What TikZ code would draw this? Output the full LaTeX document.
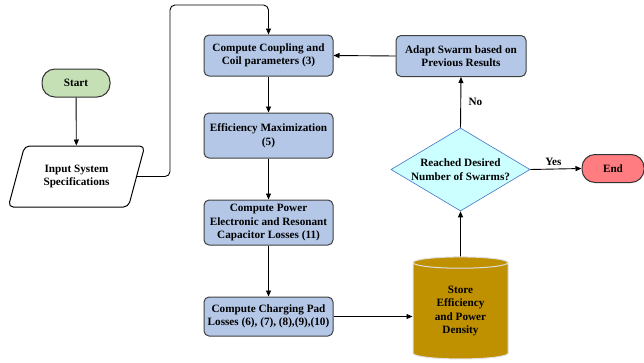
\documentclass[tikz,border=0pt]{standalone}
\usepackage{fontspec}
\setmainfont{Liberation Serif}
\newfontfamily\flowfont{Liberation Serif}
\usetikzlibrary{shapes.geometric,arrows.meta}

\definecolor{procblue}{HTML}{B4C7E7}
\definecolor{startgreen}{HTML}{C5E0B4}
\definecolor{endred}{HTML}{FF7C80}
\definecolor{storegold}{HTML}{BF9000}
\definecolor{decidecyan}{HTML}{CCFFFF}
\definecolor{decideblue}{HTML}{4472C4}

\tikzset{
  txt/.style={font=\flowfont\fontsize{11.2}{13.5}\selectfont\bfseries,align=center},
  proc/.style={txt,draw=black!75,fill=procblue,rounded corners=5pt,line width=1pt,
    minimum width=129pt,minimum height=41pt,inner sep=2pt},
  term/.style={txt,draw=black!80,rounded corners=13pt,line width=1pt,minimum height=28pt},
  flow/.style={line width=0.9pt,-{Triangle[length=6pt,width=5pt]}}
}

\begin{document}
\begin{tikzpicture}[x=1pt,y=-1pt]
\useasboundingbox (0,0) rectangle (644,362);
% left column
\node [term,fill=startgreen,minimum width=68pt] (start) at (76,83) {Start};
\node [txt,draw=black,line width=1pt,rounded corners=5pt,trapezium,trapezium stretches=true,
  trapezium left angle=66,trapezium right angle=114,minimum height=61pt,minimum width=137pt,
  inner sep=0pt] (input) at (76.5,176.5) {Input System\\Specifications};
% process column
\node [proc] (coupling) at (268.5,55.5) {Compute Coupling and\\Coil parameters (3)};
\node [proc,minimum height=45pt] (effmax) at (268.5,135.5) {Efficiency Maximization\\(5)};
\node [proc,minimum height=45pt] (losses) at (268.5,222.5) {Compute Power\\Electronic and Resonant\\Capacitor Losses (11)};
\node [proc,minimum height=39pt] (padloss) at (268.5,316.5) {Compute Charging Pad\\Losses (6), (7), (8),(9),(10)};
% right column
\node [txt,cylinder,shape border rotate=90,aspect=0.22,draw=white!75!gray,line width=1pt,
  fill=storegold,minimum width=95pt,minimum height=102pt,inner sep=0pt] (store) at (460.5,311)
  {Store\\Efficiency\\and Power\\Density};
\node [diamond,draw=decideblue,fill=decidecyan,line width=0.6pt,minimum width=139pt,
  minimum height=83pt,inner sep=0pt] (reached) at (460.5,169.5) {};
\node [txt] (reachedtxt) at (reached.center) {Reached Desired\\Number of Swarms?};
\node [proc,minimum width=130pt] (adapt) at (461,56) {Adapt Swarm based on\\Previous Results};
\node [term,fill=endred,minimum width=62pt] (finish) at (613,168.5) {End};

\draw [flow] (start) -- (input);
\draw [flow,rounded corners=5pt] (input.east) -- (170,176.5) -- (170,5) -- (coupling.north |- 0,5) -- (coupling.north);
\draw [flow] (coupling) -- (effmax);
\draw [flow] (effmax) -- (losses);
\draw [flow] (losses) -- (padloss);
\draw [flow] (padloss.east) -- (padloss.east -| store.west);
\draw [flow] (store.north) -- (reached.south);
\draw [flow] (reached.north) -- node [txt,right,xshift=4pt] {No} (adapt.south);
\draw [flow] (adapt.west) -- (coupling.east);
\draw [flow] (reached.east) -- node [txt,above,pos=0.45] {Yes} (finish.west);
\end{tikzpicture}
\end{document}
